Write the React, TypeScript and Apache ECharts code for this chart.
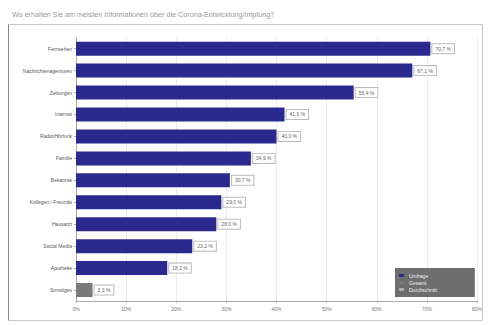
import React, { useEffect, useRef } from "react";
import * as echarts from "echarts";

const title = "Wo erhalten Sie am meisten Informationen über die Corona-Entwicklung/Impfung?";
const categories = [
  "Fernsehen",
  "Nachrichtenagenturen",
  "Zeitungen",
  "Internet",
  "Radio/Hörfunk",
  "Familie",
  "Bekannte",
  "Kollegen / Freunde",
  "Hausarzt",
  "Social Media",
  "Apotheke",
  "Sonstiges",
];
const mainValues = [70.7, 67.1, 55.4, 41.6, 40.0, 34.9, 30.7, 29.0, 28.0, 23.2, 18.2, null];
const otherValues = [null, null, null, null, null, null, null, null, null, null, null, 3.3];
const legendNames = ["Umfrage", "Gesamt", "Durchschnitt"];
const xTicks = { min: 0, max: 80, interval: 10 };

export default function App() {
  const ref = useRef<HTMLDivElement>(null);
  useEffect(() => {
    document.body.style.margin = "0";
    if (!ref.current) return;
    const chart = echarts.init(ref.current, null, { renderer: "svg" });
    const cats = [...categories].reverse();
    const main = [...mainValues].reverse().map((v) => (v == null ? "-" : v));
    const other = [...otherValues].reverse().map((v) => (v == null ? "-" : v));
    const fmt = (p: any) => p.value.toFixed(1).replace(".", ",") + " %";
    const label = {
      show: true,
      position: "right",
      distance: 2,
      formatter: fmt,
      fontSize: 5,
      color: "#666",
      backgroundColor: "#fff",
      borderColor: "#bbb",
      borderWidth: 1,
      padding: [2, 3],
      fontFamily: "Arial, Liberation Sans, sans-serif",
    };
    chart.setOption({
      animation: false,
      backgroundColor: "#fff",
      title: {
        text: title,
        left: 7,
        top: 6,
        textStyle: { fontSize: 7.2, color: "#999", fontWeight: "normal", fontFamily: "Arial, Liberation Sans, sans-serif" },
      },
      graphic: [
        {
          type: "rect",
          shape: { x: 8.5, y: 24.5, width: 474, height: 296 },
          style: { fill: "none", stroke: "#c8c8c8", lineWidth: 1 },
          silent: true,
        },
        {
          type: "line",
          shape: { x1: 8.5, y1: 24.5, x2: 8.5, y2: 320.5 },
          style: { stroke: "#888", lineWidth: 1 },
          silent: true,
        },
      ],
      legend: {
        data: legendNames,
        orient: "vertical",
        left: 395,
        top: 268,
        backgroundColor: "#6e6e6e",
        padding: [5, 38, 5, 4],
        itemWidth: 5,
        itemHeight: 3,
        itemGap: 2,
        textStyle: { color: "#eee", fontSize: 5, fontFamily: "Arial, Liberation Sans, sans-serif" },
      },
      grid: { left: 76, right: 14, top: 37.7, bottom: 24, containLabel: false },
      xAxis: {
        type: "value",
        min: xTicks.min,
        max: xTicks.max,
        interval: xTicks.interval,
        axisLabel: { formatter: "{value}%", fontSize: 5, color: "#777", margin: 5 },
        axisLine: { show: true, lineStyle: { color: "#aaa" } },
        axisTick: { show: true, length: 2, lineStyle: { color: "#aaa" } },
        splitLine: { show: true, lineStyle: { color: "#ececec" } },
      },
      yAxis: {
        type: "category",
        data: cats,
        axisLabel: { fontSize: 5, color: "#555", margin: 4 },
        axisLine: { show: true, lineStyle: { color: "#aaa" } },
        axisTick: { show: true, length: 2, alignWithLabel: true, lineStyle: { color: "#aaa" } },
      },
      series: [
        {
          name: legendNames[0],
          type: "bar",
          data: main,
          barWidth: 14,
          barGap: "-100%",
          itemStyle: { color: "#2a2a8e" },
          label,
        },
        {
          name: legendNames[1],
          type: "bar",
          data: other,
          barWidth: 14,
          barGap: "-100%",
          itemStyle: { color: "#7a7a7a" },
          label,
        },
        {
          name: legendNames[2],
          type: "bar",
          data: [],
          barWidth: 14,
          barGap: "-100%",
          itemStyle: { color: "#b0b0b0" },
        },
      ],
    });
    return () => chart.dispose();
  }, []);
  return <div ref={ref} style={{ width: 491, height: 325 }} />;
}
